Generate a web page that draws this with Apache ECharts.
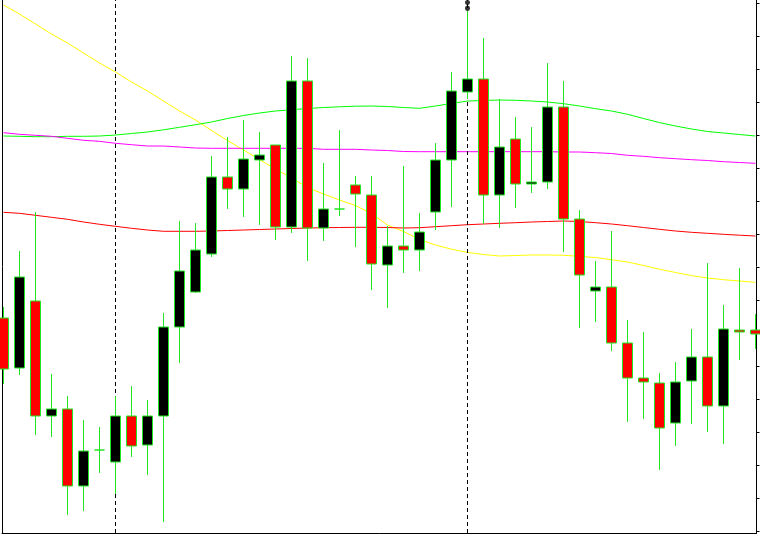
<!DOCTYPE html>
<html>
<head>
<meta charset="utf-8">
<style>
  html, body { margin: 0; padding: 0; background: #ffffff; }
  #chart { width: 760px; height: 536px; }
</style>
<script src="https://cdn.jsdelivr.net/npm/echarts@6.0.0/dist/echarts.min.js"></script>
</head>
<body>
<div id="chart"></div>
<script>
// bar index (one candle per period)
const barIndex = [0,1,2,3,4,5,6,7,8,9,10,11,12,13,14,15,16,17,18,19,20,21,22,23,24,25,26,27,28,29,30,31,32,33,34,35,36,37,38,39,40,41,42,43,44,45,46,47];

// OHLC (price points)
const openVals  = [215,165,232,117,124,47,83,71,117,88,117,206,241,279,356,344,373,388,306,452,305,324,348,338,268,287,283,321,373,441,454,338,394,349,351,426,314,242,246,190,155,150,110,152,176,127,203,203];
const closeVals = [164,256,117,124,47,82,83,117,87,117,206,262,283,356,344,374,378,306,452,305,324,324,339,269,287,283,301,373,442,454,338,386,349,351,426,314,258,246,190,155,151,105,151,176,127,204,201,199];
const lowVals   = [149,158,98,96,18,22,60,39,76,58,11,170,240,276,324,316,308,293,300,272,292,317,286,243,225,260,262,303,326,434,309,305,325,340,344,281,205,211,182,111,114,63,87,109,101,89,173,184];
const highVals  = [226,282,321,159,137,113,106,137,147,133,220,312,310,377,396,413,401,388,477,475,370,403,357,357,307,367,320,390,461,522,495,434,416,406,470,452,323,272,302,213,201,160,171,204,270,228,265,219];

// moving averages
const maYellow  = [528,519,509,499,490,480,470,461,451,442,432,422,413,402.5,392.5,383,373.4,364,355,345.5,339,333,327.5,319.4,308,301.5,293.5,288,283.8,280.6,278.5,277,277.5,278,278,277.7,276.7,275.4,273.3,271,267.5,263.8,260.5,257.4,255,253.3,252,250.7];
const maGreen   = [397,396.7,396.3,396.3,396.7,396.7,397,398,399.5,401,403.2,405.7,408.3,411,414.5,417.5,420,422,423.2,424.5,425.5,426.2,426.8,427,426.5,425.5,424.7,427,429.5,432,432.5,433,432.7,432,431,429.3,427,424.3,422,418.7,414.5,410.4,407,404,401.5,400,398.5,397];
const maMagenta = [400.3,398.7,397.7,396.7,394.7,392.7,391.7,389.7,388.3,387,387,386,385,384.7,384.7,384.7,384.7,384.7,384.7,384.7,383.7,383.7,383.7,383,382.5,381.5,381.3,381.3,381.3,381.3,381.3,381.3,381.3,381.3,381.3,381,381,380.3,379.5,377.7,376.7,375.3,374.3,373.3,372.5,371.3,370.5,369.7];
const maRed     = [320.7,319.7,317.7,315.7,313.7,311,308.7,306.7,304.7,303,301.7,301.7,301.7,302,302.5,303,303.5,304,304.5,305,305.3,305.5,305.7,305.7,305.5,305,305.3,306.3,307.3,308.3,309,309.7,310.3,311,311.5,312,311.5,310.3,309,307.3,305.5,303.7,302,300.7,299.7,298.7,297.8,297];

// price-axis tick marks
const tickValues = [2,35,68,101,134,167,200,233,266,299,332,365,398,431,464,497,530];

// period separators and the high marker
const separatorBars = [7, 29];
const highMarkBar = 29;

const candleData = barIndex.map((k, i) => [k, openVals[i], closeVals[i], lowVals[i], highVals[i]]);
const lineData = arr => barIndex.map((k, i) => [k, arr[i]]);

const GREEN = '#22e622';
const chart = echarts.init(document.getElementById('chart'), null, { renderer: 'canvas' });

function maSeries(name, arr, color, extra) {
  return Object.assign({
    name: name,
    type: 'line',
    data: lineData(arr),
    showSymbol: false,
    symbol: 'none',
    smooth: false,
    silent: true,
    z: 2,
    lineStyle: { color: color, width: 1 }
  }, extra || {});
}

chart.setOption({
  animation: false,
  backgroundColor: '#ffffff',
  grid: { left: 2, right: 3.5, top: 0, bottom: 3 },
  xAxis: {
    type: 'value',
    min: -0.09375,
    max: 47.0625,
    axisLine: { show: true, onZero: false, lineStyle: { color: '#000000', width: 1 } },
    axisTick: { show: false },
    axisLabel: { show: false },
    splitLine: { show: false }
  },
  yAxis: [
    {
      type: 'value',
      position: 'right',
      min: 0,
      max: 533,
      axisLine: { show: true, onZero: false, lineStyle: { color: '#000000', width: 1 } },
      axisTick: { show: true, inside: false, length: 3, customValues: tickValues, lineStyle: { color: '#000000', width: 1 } },
      axisLabel: { show: false },
      splitLine: { show: false }
    },
    {
      type: 'value',
      position: 'left',
      min: 0,
      max: 533,
      axisLine: { show: true, onZero: false, lineStyle: { color: '#000000', width: 1 } },
      axisTick: { show: false },
      axisLabel: { show: false },
      splitLine: { show: false }
    }
  ],
  series: [
    maSeries('MA yellow', maYellow, '#ffff00', {
      markLine: {
        silent: true,
        symbol: ['none', 'none'],
        label: { show: false },
        lineStyle: { color: '#000000', type: [4, 3], width: 1 },
        data: separatorBars.map(b => ({ xAxis: b }))
      }
    }),
    maSeries('MA green', maGreen, '#00ff00'),
    maSeries('MA magenta', maMagenta, '#ff00ff'),
    maSeries('MA red', maRed, '#ff0000'),
    {
      name: 'price',
      type: 'candlestick',
      data: candleData,
      barWidth: 10,
      z: 10,
      silent: true,
      itemStyle: {
        color: '#000000',
        color0: '#ff0000',
        borderColor: GREEN,
        borderColor0: GREEN,
        borderColorDoji: GREEN,
        borderWidth: 1
      }
    },
    {
      name: 'high mark',
      type: 'scatter',
      z: 11,
      silent: true,
      data: [[highMarkBar, highVals[highMarkBar]]],
      symbol: 'path://M2,0 C3.3,0 4,1 4,2.3 C4,3.6 3.3,4.6 2,4.6 C0.7,4.6 0,3.6 0,2.3 C0,1 0.7,0 2,0 Z M2,5 C3.3,5 4,6.2 4,7.6 C4,9 3.3,10 2,10 C0.7,10 0,9 0,7.6 C0,6.2 0.7,5 2,5 Z',
      symbolSize: [5, 11],
      symbolOffset: [0, '-50%'],
      itemStyle: { color: '#000000' }
    }
  ]
});
</script>
</body>
</html>
